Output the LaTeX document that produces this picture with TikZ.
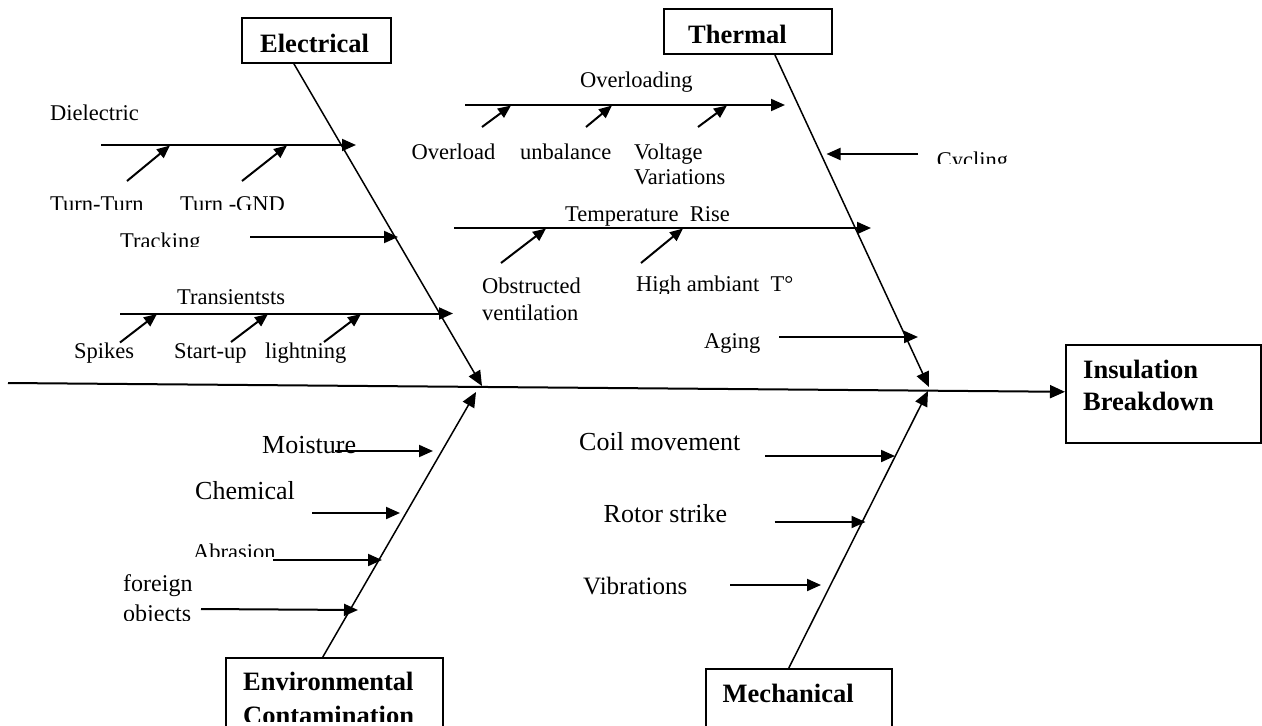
\documentclass[tikz,border=0pt]{standalone}
\usepackage{fontspec}
\setmainfont{Liberation Serif}
\usetikzlibrary{arrows.meta,calc}
\begin{document}
\begin{tikzpicture}[x=1pt,y=-1pt,
  box/.style={draw, line width=1.6pt, inner sep=0pt, anchor=north west},
  lbl/.style={anchor=base west, inner sep=0pt, font=\fontsize{22.5}{26}\selectfont},
  midlbl/.style={anchor=base west, inner sep=0pt, font=\fontsize{24}{27}\selectfont},
  biglbl/.style={anchor=base west, inner sep=0pt, font=\fontsize{26}{30}\selectfont},
  ttl/.style={anchor=base west, inner sep=0pt, font=\fontsize{26.5}{30}\selectfont\bfseries},
  spine/.style={line width=2pt, -{Triangle[length=15pt,width=13pt]}},
  bone/.style={line width=1.5pt, -{Triangle[length=15pt,width=13pt]}},
  cause/.style={line width=2pt, -{Triangle[length=14pt,width=12pt]}},
  sub/.style={line width=2pt, -{Triangle[length=13pt,width=11pt]}},
]
\clip (0,0) rectangle (1262,726);
\fill[white] (0,0) rectangle (1262,726);

% ---------- boxes ----------
\node[box, minimum width=149pt, minimum height=45pt] (elec) at (241,17) {};
\node[box, minimum width=168pt, minimum height=45pt] (therm) at (663,8) {};
\node[box, minimum width=195pt, minimum height=98pt] (ins) at (1065,344) {};
\node[box, minimum width=217pt, minimum height=90pt] (env) at (225,657) {};
\node[box, minimum width=186pt, minimum height=90pt] (mech) at (705,668) {};

\node[ttl] (telec) at (260,52) {Electrical};
\node[ttl] (ttherm) at (688,43) {Thermal};
\node[ttl] (tins1) at (1083,378) {Insulation};
\node[ttl] (tins2) at (1083,410) {Breakdown};
\node[ttl] (tenv1) at (243,690.7) {Environmental};
\begin{scope}
  \clip (230,695) rectangle (440,721.7);
  \node[ttl] (tenv2) at (243,724) {Contamination};
\end{scope}
\node[ttl] (tmech) at (722.5,702.7) {Mechanical};

% ---------- spine and bones ----------
\coordinate (tail) at (8,383);
\coordinate (jE) at (482,386);
\coordinate (jEnv) at (476,392);
\coordinate (jT) at (929,387);
\coordinate (jM) at (928,391);
\draw[spine] (tail) -- ([yshift=2pt]ins.west);
\draw[bone] ([xshift=-22.5pt]elec.south) -- (jE);
\draw[bone] ([xshift=27pt]therm.south) -- (jT);
\draw[bone] ([xshift=-11.5pt]env.north) -- (jEnv);
\draw[bone] ([xshift=-10pt]mech.north) -- (jM);

% ---------- Electrical causes ----------
\coordinate (diS) at (101,145);  \coordinate (diE) at (356,145);
\coordinate (trS) at (250,237);  \coordinate (trE) at (398,237);
\coordinate (tsS) at (120,313.5);\coordinate (tsE) at (453,313.5);
\draw[cause] (diS) -- (diE);
\draw[cause] (trS) -- (trE);
\draw[cause] (tsS) -- (tsE);
\coordinate (ttS) at (127,181);  \coordinate (ttE) at (170,145.5);
\coordinate (tgS) at (242,181);  \coordinate (tgE) at (287,145.5);
\coordinate (spS) at (120,342.5);\coordinate (spE) at (157,314);
\coordinate (suS) at (231,342);  \coordinate (suE) at (268,314);
\coordinate (liS) at (324,342);  \coordinate (liE) at (361,314);
\draw[sub] (ttS) -- (ttE);
\draw[sub] (tgS) -- (tgE);
\draw[sub] (spS) -- (spE);
\draw[sub] (suS) -- (suE);
\draw[sub] (liS) -- (liE);

\node[lbl] (ldi) at (50,120.7) {Dielectric};
\begin{scope}
  \clip (0,180) rectangle (400,209.3);
  \node[lbl] (ltt) at (50,211) {Turn-Turn};
  \node[lbl] (ltg) at (180,211) {Turn -GND};
\end{scope}
\begin{scope}
  \clip (0,220) rectangle (240,246.7);
  \node[lbl] (ltr) at (120,248.2) {Tracking};
\end{scope}
\node[lbl] (lts) at (177,304) {Transientsts};
\node[lbl] (lsp) at (74,358.3) {Spikes};
\node[lbl] (lsu) at (174,358.3) {Start-up};
\node[lbl] (lli) at (265,358.3) {lightning};

% ---------- Thermal causes ----------
\coordinate (ovS) at (465,105);  \coordinate (ovE) at (785,105);
\coordinate (cyS) at (918,154);  \coordinate (cyE) at (826.5,154);
\coordinate (teS) at (454,228);  \coordinate (teE) at (871,228);
\coordinate (agS) at (779,337);  \coordinate (agE) at (918,337);
\draw[cause] (ovS) -- (ovE);
\draw[cause] (cyS) -- (cyE);
\draw[cause] (teS) -- (teE);
\draw[cause] (agS) -- (agE);
\coordinate (o1S) at (482,127);  \coordinate (o1E) at (511,105.5);
\coordinate (o2S) at (586,127);  \coordinate (o2E) at (612,105.5);
\coordinate (o3S) at (698,127);  \coordinate (o3E) at (727,105.5);
\coordinate (t1S) at (501,263);  \coordinate (t1E) at (546,228.5);
\coordinate (t2S) at (641,263);  \coordinate (t2E) at (683,228.5);
\draw[sub] (o1S) -- (o1E);
\draw[sub] (o2S) -- (o2E);
\draw[sub] (o3S) -- (o3E);
\draw[sub] (t1S) -- (t1E);
\draw[sub] (t2S) -- (t2E);

\node[lbl] (lovg) at (580,87) {Overloading};
\node[lbl] (lov) at (411.5,159) {Overload};
\node[lbl] (lub) at (520,159) {unbalance};
\node[lbl] (lvo1) at (634,159) {Voltage};
\node[lbl] (lvo2) at (634,184) {Variations};
\begin{scope}
  \clip (900,140) rectangle (1100,163.3);
  \node[lbl] (lcy) at (936.7,167.6) {Cycling};
\end{scope}
\node[lbl] (lte) at (565,221) {Temperature\ \ Rise};
\node[lbl] (lob1) at (482,293) {Obstructed};
\node[lbl] (lob2) at (482,320.7) {ventilation};
\begin{scope}
  \clip (600,265) rectangle (820,293);
  \node[lbl] (lhi) at (636,291.6) {High ambiant\ \ T°};
\end{scope}
\node[lbl] (lag) at (704,348) {Aging};

% ---------- Environmental causes ----------
\coordinate (moS) at (335,451);  \coordinate (moE) at (433,451);
\coordinate (chS) at (312,513);  \coordinate (chE) at (400,513);
\coordinate (abS) at (273,560);  \coordinate (abE) at (382,560);
\coordinate (foS) at (201,609);  \coordinate (foE) at (358,610);
\draw[cause] (moS) -- (moE);
\draw[cause] (chS) -- (chE);
\draw[cause] (abS) -- (abE);
\draw[cause] (foS) -- (foE);
\node[biglbl] (lmo) at (262,453.3) {Moisture};
\node[biglbl] (lch) at (195,499) {Chemical};
\begin{scope}
  \clip (150,535) rectangle (300,556.7);
  \node[lbl] (lab) at (193,559.9) {Abrasion};
\end{scope}
\node[midlbl] (lfo1) at (123,591.7) {foreign};
\begin{scope}
  \clip (100,598) rectangle (200,620);
  \node[midlbl] (lfo2) at (123,621) {objects};
\end{scope}

% ---------- Mechanical causes ----------
\coordinate (coS) at (765,456);  \coordinate (coE) at (895,456);
\coordinate (roS) at (774.5,522);\coordinate (roE) at (865.5,522);
\coordinate (viS) at (730,585);  \coordinate (viE) at (821,585);
\draw[cause] (coS) -- (coE);
\draw[cause] (roS) -- (roE);
\draw[cause] (viS) -- (viE);
\node[biglbl] (lco) at (579,450.7) {Coil movement};
\node[biglbl] (lro) at (603.5,522) {Rotor strike};
\node[anchor=base west, inner sep=0pt, font=\fontsize{25}{28}\selectfont] (lvi) at (583,594) {Vibrations};
\end{tikzpicture}
\end{document}
